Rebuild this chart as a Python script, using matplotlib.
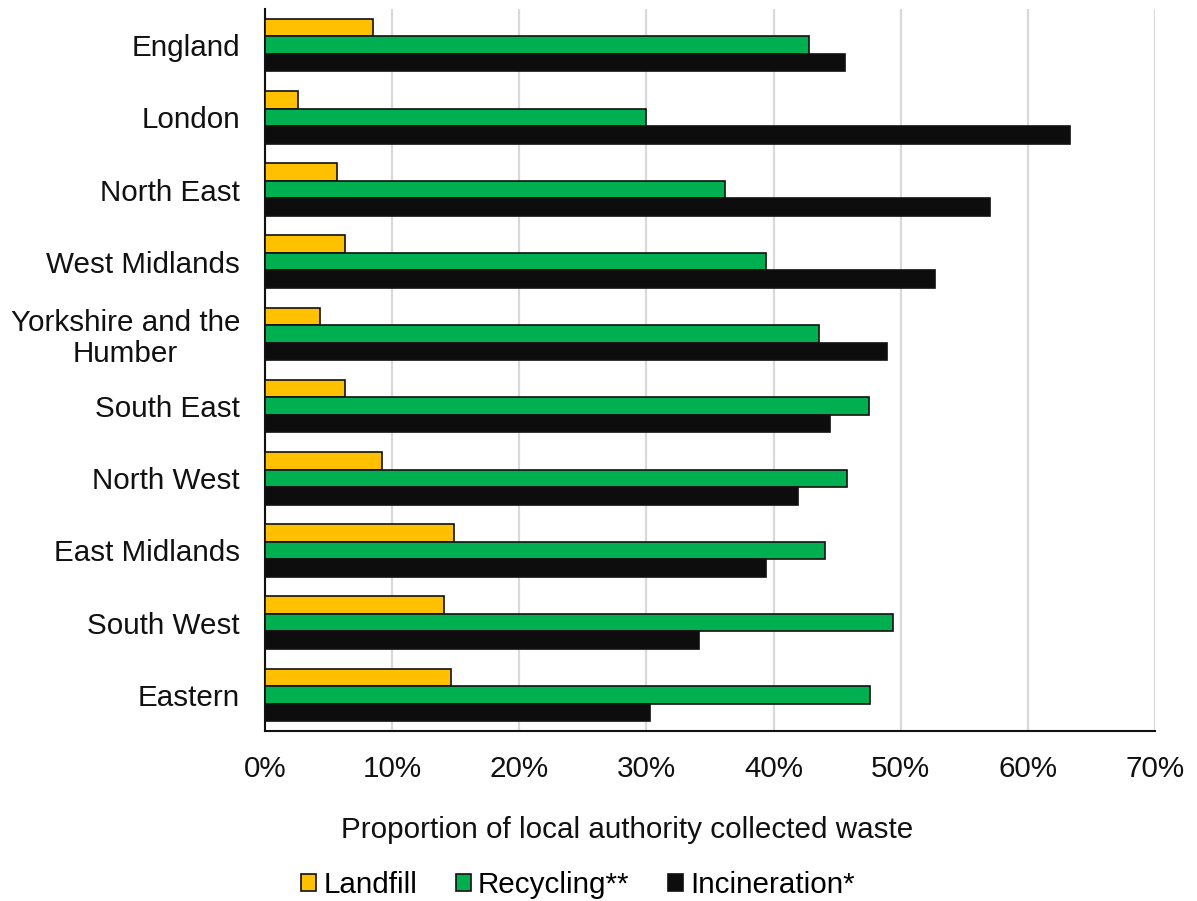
import matplotlib.pyplot as plt
import numpy as np
from matplotlib.ticker import FuncFormatter

plt.rcParams['font.family'] = ['Liberation Sans', 'DejaVu Sans']

# Regions, top to bottom
regions = ['England', 'London', 'North East', 'West Midlands', 'Yorkshire and the\nHumber',
           'South East', 'North West', 'East Midlands', 'South West', 'Eastern']

# Share of local authority collected waste (%)
landfill = [8.5, 2.6, 5.7, 6.3, 4.3, 6.3, 9.2, 14.9, 14.1, 14.6]
recycling = [42.8, 30.0, 36.2, 39.4, 43.6, 47.5, 45.8, 44.0, 49.4, 47.6]
incineration = [45.6, 63.3, 57.0, 52.7, 48.9, 44.4, 41.9, 39.4, 34.1, 30.3]

series_names = ['Landfill', 'Recycling**', 'Incineration*']
series_colors = ['#FFC000', '#00B050', '#0D0D0D']

fs = 21.3

fig = plt.figure(figsize=(11.97, 9.01), dpi=100)
ax = fig.add_axes([0.2214, 0.1887, 0.7436, 0.8013])

y = np.arange(len(regions))
h = 0.243

for i, (vals, name, col) in enumerate(zip([landfill, recycling, incineration], series_names, series_colors)):
    ax.barh(y + (i - 1) * h, vals, height=h, color=col, edgecolor='#111111',
            linewidth=1.2, label=name, zorder=3)

ax.set_xlim(0, 70)
ax.set_ylim(len(regions) - 0.5, -0.5)
ax.set_xticks(np.arange(0, 71, 10))
ax.xaxis.set_major_formatter(FuncFormatter(lambda v, p: f'{v:.0f}%'))
ax.set_yticks(y)
ax.set_yticklabels(regions, multialignment='center', linespacing=1.15)

ax.grid(axis='x', color='#d9d9d9', linewidth=1.6, zorder=0)
ax.set_axisbelow(True)
for s in ['top', 'right']:
    ax.spines[s].set_visible(False)
for s in ['left', 'bottom']:
    ax.spines[s].set_color('#111111')
    ax.spines[s].set_linewidth(1.5)

ax.tick_params(axis='both', length=0, labelsize=fs, colors='#111111')
ax.tick_params(axis='y', pad=18)
ax.tick_params(axis='x', pad=17)

fig.text(627 / 1197, 1 - 830 / 901, 'Proportion of local authority collected waste',
         ha='center', va='center', fontsize=fs, color='#111111')

fig.legend(loc='center', bbox_to_anchor=(578 / 1197, 1 - 885 / 901), ncol=3, frameon=False,
           fontsize=fs, handlelength=0.5, handleheight=0.5, handletextpad=0.25,
           columnspacing=1.3)

plt.savefig('out.png', dpi=100)
